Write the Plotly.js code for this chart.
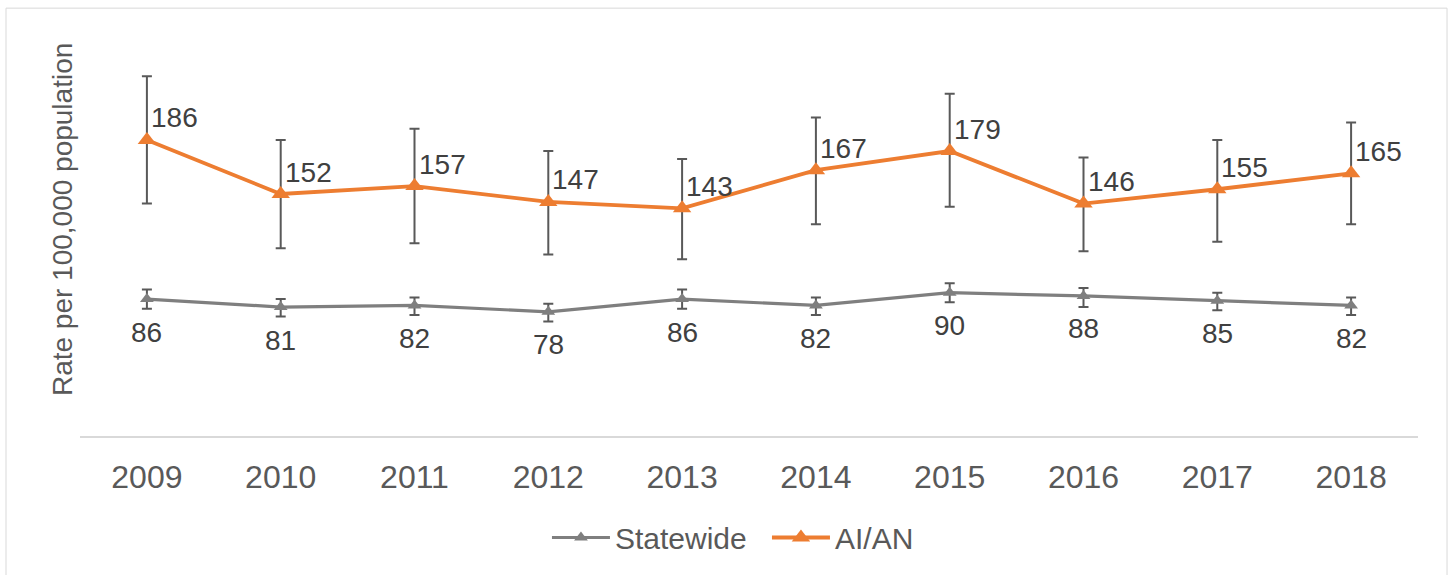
<!DOCTYPE html>
<html><head><meta charset="utf-8">
<script src="https://cdn.plot.ly/plotly-3.0.1.min.js"></script>
<style>html,body{margin:0;padding:0;background:#fff}#chart{width:1452px;height:575px}</style>
</head><body><div id="chart"></div>
<script>
const years = [2009, 2010, 2011, 2012, 2013, 2014, 2015, 2016, 2017, 2018];
const statewide = [86, 81, 82, 78, 86, 82, 90, 88, 85, 82];
const statewideUpper = [92, 86, 87, 83, 92, 87, 96, 93, 90, 87];
const statewideLower = [80, 75, 76, 72, 80, 76, 84, 81, 79, 76];
const aian = [186, 152, 157, 147, 143, 167, 179, 146, 155, 165];
const aianUpper = [226, 186, 193, 179, 174, 200, 215, 175, 186, 197];
const aianLower = [146, 118, 121, 114, 111, 133, 144, 116, 122, 133];

const FONT = '"Liberation Sans", Arial, sans-serif';
const errColor = '#595959';

function errBars(vals, up, lo) {
  return {type:'data', symmetric:false,
    array: up.map((u,i)=>u-vals[i]),
    arrayminus: lo.map((l,i)=>vals[i]-l),
    color: errColor, thickness: 2, width: 5};
}

const traces = [
  {x: years, y: statewide, name: 'Statewide', type:'scatter', mode:'lines+markers',
   line:{color:'#7F7F7F', width:3.2}, marker:{symbol:'triangle-up', size:12, color:'#7F7F7F'},
   error_y: errBars(statewide, statewideUpper, statewideLower)},
  {x: years, y: aian, name: 'AI/AN', type:'scatter', mode:'lines+markers',
   line:{color:'#ED7D31', width:3.8}, marker:{symbol:'triangle-up', size:16, color:'#ED7D31'},
   error_y: errBars(aian, aianUpper, aianLower)}
];

const annotations = [];
years.forEach((yr,i)=>{
  annotations.push({x: yr, y: aian[i], xref:'x', yref:'y', text: String(aian[i]), showarrow:false,
    xanchor:'left', yanchor:'middle', xshift:2, yshift:22, font:{family:FONT, size:28, color:'#404040'}});
  annotations.push({x: yr, y: statewide[i], xref:'x', yref:'y', text: String(statewide[i]), showarrow:false,
    xanchor:'center', yanchor:'middle', yshift:-33, font:{family:FONT, size:28, color:'#404040'}});
});
annotations.push({xref:'paper', yref:'paper', x:0, y:0.5425, xshift:-18, xanchor:'center', yanchor:'middle',
  text:'Rate per 100,000 population', textangle:-90, showarrow:false, font:{family:FONT, size:28, color:'#595959'}});

const layout = {
  width:1452, height:575,
  margin:{l:80, r:34, t:38, b:137},
  paper_bgcolor:'#fff', plot_bgcolor:'#fff',
  font:{family:FONT, color:'#595959'},
  showlegend:true,
  legend:{orientation:'h', x:0.349, xanchor:'left', y:-0.255, yanchor:'middle',
    font:{family:FONT, size:30, color:'#595959'}, itemwidth:58, entrywidth:147, bgcolor:'rgba(0,0,0,0)'},
  xaxis:{type:'linear', range:[2008.5, 2018.5], tickmode:'array', tickvals:years, ticktext:years.map(String),
    showgrid:false, zeroline:false, showline:true, linecolor:'#D9D9D9', linewidth:1.5,
    ticks:'outside', ticklen:12, tickcolor:'rgba(0,0,0,0)', tickfont:{family:FONT, size:32, color:'#595959'},
    fixedrange:true},
  yaxis:{range:[0,250], showgrid:false, zeroline:false, showline:false, showticklabels:false, ticks:'', fixedrange:true},
  annotations: annotations,
  shapes:[{type:'rect', xref:'paper', yref:'paper', x0:-0.0553, x1:1.0217, y0:-0.5, y1:1.075,
    line:{color:'#D9D9D9', width:1}, fillcolor:'rgba(0,0,0,0)', layer:'below'}]
};

Plotly.newPlot('chart', traces, layout, {displayModeBar:false, staticPlot:true});
</script></body></html>
